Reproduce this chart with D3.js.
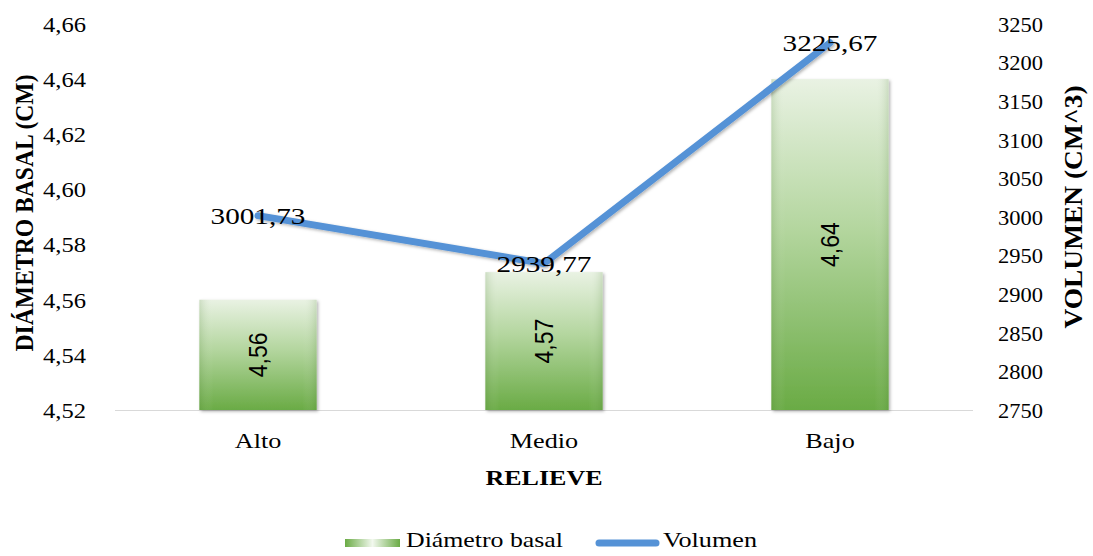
<!DOCTYPE html>
<html>
<head>
<meta charset="utf-8">
<script src="https://cdn.jsdelivr.net/npm/d3@7"></script>
<style>
  html, body { margin: 0; padding: 0; background: #fff; }
  svg { display: block; }
  text { font-family: "Liberation Serif", "Times New Roman", serif; fill: #000; }
</style>
</head>
<body>
<svg id="chart" width="1093" height="556"></svg>
<script>
// Categories (relieve) and the two series
const categories = ["Alto", "Medio", "Bajo"];
const diametro = [4.56, 4.57, 4.64];          // Diámetro basal (cm)
const volumen = [3001.73, 2939.77, 3225.67];  // Volumen (cm^3)

// Axis tick values
const leftTicks = [4.52, 4.54, 4.56, 4.58, 4.60, 4.62, 4.64, 4.66];
const rightTicks = [2750, 2800, 2850, 2900, 2950, 3000, 3050, 3100, 3150, 3200, 3250];

const fmt2 = v => v.toFixed(2).replace(".", ",");
const SERIF = "'Liberation Serif', 'Times New Roman', serif";

// Widen a text selection's glyphs horizontally by factor k
function widen(sel, k) {
  sel.each(function () {
    const w = this.getComputedTextLength();
    d3.select(this).attr("textLength", w * k).attr("lengthAdjust", "spacingAndGlyphs");
  });
}

const svg = d3.select("#chart");
const plot = { left: 115, right: 973, top: 24, bottom: 410 };

const x = d3.scaleBand().domain(categories).range([plot.left, plot.right]).paddingInner(0.59).paddingOuter(0.295);
const yL = d3.scaleLinear().domain([4.52, 4.66]).range([plot.bottom, plot.top]);
const yR = d3.scaleLinear().domain([2750, 3250]).range([plot.bottom, plot.top]);

const defs = svg.append("defs");
const grad = defs.append("linearGradient").attr("id", "barGrad").attr("x1", 0).attr("y1", 0).attr("x2", 0).attr("y2", 1);
grad.append("stop").attr("offset", "0%").attr("stop-color", "#e9f2e3");
grad.append("stop").attr("offset", "45%").attr("stop-color", "#b4d69f");
grad.append("stop").attr("offset", "100%").attr("stop-color", "#6aab45");

const side = defs.append("linearGradient").attr("id", "barSide").attr("x1", 0).attr("y1", 0).attr("x2", 1).attr("y2", 0);
side.append("stop").attr("offset", "0%").attr("stop-color", "#4d7f33").attr("stop-opacity", 0.18);
side.append("stop").attr("offset", "12%").attr("stop-color", "#ffffff").attr("stop-opacity", 0.0);
side.append("stop").attr("offset", "88%").attr("stop-color", "#ffffff").attr("stop-opacity", 0.0);
side.append("stop").attr("offset", "100%").attr("stop-color", "#4d7f33").attr("stop-opacity", 0.18);

const legGrad = defs.append("linearGradient").attr("id", "legGrad").attr("x1", 0).attr("y1", 0).attr("x2", 1).attr("y2", 0);
legGrad.append("stop").attr("offset", "0%").attr("stop-color", "#6aab45");
legGrad.append("stop").attr("offset", "50%").attr("stop-color", "#f2f8ee");
legGrad.append("stop").attr("offset", "100%").attr("stop-color", "#6aab45");

const shadow = defs.append("filter").attr("id", "shadow").attr("x", "-20%").attr("y", "-20%").attr("width", "140%").attr("height", "140%");
shadow.append("feDropShadow").attr("dx", 1.5).attr("dy", 1.5).attr("stdDeviation", 1.8).attr("flood-color", "#000").attr("flood-opacity", 0.3);

// Baseline
svg.append("line")
  .attr("x1", plot.left).attr("x2", plot.right)
  .attr("y1", plot.bottom + 0.5).attr("y2", plot.bottom + 0.5)
  .attr("stroke", "#d9d9d9").attr("stroke-width", 1);

// Bars
const bars = svg.append("g");
categories.forEach((c, i) => {
  const bx = x(c), bw = x.bandwidth(), by = yL(diametro[i]), bh = plot.bottom - yL(diametro[i]);
  bars.append("rect").attr("x", bx).attr("y", by).attr("width", bw).attr("height", bh)
    .attr("fill", "url(#barGrad)").attr("filter", "url(#shadow)");
  bars.append("rect").attr("x", bx).attr("y", by).attr("width", bw).attr("height", bh)
    .attr("fill", "url(#barSide)");
  const cx = bx + bw / 2, cy = by + bh / 2;
  bars.append("text")
    .attr("transform", `translate(${cx},${cy}) scale(1.1,1) rotate(-90)`)
    .attr("text-anchor", "middle").attr("dy", "0.35em")
    .style("font-family", "'Liberation Sans', Arial, sans-serif")
    .style("font-size", "23px")
    .text(fmt2(diametro[i]));
});

// Volumen line
const line = d3.line().x((d, i) => x(categories[i]) + x.bandwidth() / 2).y(d => yR(d));
svg.append("path").datum(volumen)
  .attr("d", line).attr("fill", "none")
  .attr("stroke", "#5592d6").attr("stroke-width", 7).attr("stroke-linecap", "round").attr("stroke-linejoin", "round")
  .attr("filter", "url(#shadow)");

// Volumen labels
volumen.forEach((v, i) => {
  svg.append("text")
    .attr("x", x(categories[i]) + x.bandwidth() / 2).attr("y", yR(v))
    .attr("text-anchor", "middle").attr("dy", "0.35em")
    .style("font-family", SERIF).style("font-size", "23px")
    .text(fmt2(v))
    .call(widen, 1.27);
});

// Left axis
const axL = svg.append("g").attr("transform", `translate(${plot.left - 26},0)`)
  .call(d3.axisLeft(yL).tickValues(leftTicks).tickFormat(fmt2).tickSize(0));
axL.select(".domain").remove();
axL.selectAll("text").style("font-family", SERIF).style("font-size", "21px").attr("fill", "#000").attr("dy", "0.35em")
  .call(widen, 1.17);

// Right axis
const axR = svg.append("g").attr("transform", `translate(${plot.right + 22},0)`)
  .call(d3.axisRight(yR).tickValues(rightTicks).tickFormat(d3.format("d")).tickSize(0));
axR.select(".domain").remove();
axR.selectAll("text").style("font-family", SERIF).style("font-size", "21px").attr("fill", "#000").attr("dy", "0.35em")
  .call(widen, 1.07);

// Category axis
const axB = svg.append("g").attr("transform", `translate(0,${plot.bottom})`)
  .call(d3.axisBottom(x).tickSize(0));
axB.select(".domain").remove();
axB.selectAll("text").style("font-family", SERIF).style("font-size", "22px").attr("fill", "#000").attr("y", 38).attr("dy", 0)
  .call(widen, 1.19);

// Axis titles
svg.append("text").attr("x", (plot.left + plot.right) / 2).attr("y", 485)
  .attr("text-anchor", "middle").style("font-family", SERIF).style("font-weight", "bold").style("font-size", "22px")
  .text("RELIEVE").attr("textLength", 117).attr("lengthAdjust", "spacingAndGlyphs");
svg.append("text").attr("transform", "translate(33,213) scale(1.19,1) rotate(-90)")
  .attr("text-anchor", "middle").style("font-family", SERIF).style("font-weight", "bold").style("font-size", "21px")
  .text("DIÁMETRO BASAL (CM)").attr("textLength", 277).attr("lengthAdjust", "spacingAndGlyphs");
svg.append("text").attr("transform", "translate(1082,207) scale(1.19,1) rotate(-90)")
  .attr("text-anchor", "middle").style("font-family", SERIF).style("font-weight", "bold").style("font-size", "21px")
  .text("VOLUMEN (CM^3)").attr("textLength", 243).attr("lengthAdjust", "spacingAndGlyphs");

// Legend
const leg = svg.append("g");
leg.append("rect").attr("x", 345).attr("y", 539).attr("width", 55).attr("height", 8).attr("fill", "url(#legGrad)");
leg.append("text").attr("x", 406).attr("y", 547).style("font-family", SERIF).style("font-size", "21px")
  .text("Diámetro basal").attr("textLength", 157).attr("lengthAdjust", "spacingAndGlyphs");
leg.append("line").attr("x1", 599).attr("x2", 656).attr("y1", 543).attr("y2", 543)
  .attr("stroke", "#5592d6").attr("stroke-width", 7).attr("stroke-linecap", "round");
leg.append("text").attr("x", 663).attr("y", 547).style("font-family", SERIF).style("font-size", "21px")
  .text("Volumen").attr("textLength", 94).attr("lengthAdjust", "spacingAndGlyphs");
</script>
</body>
</html>
